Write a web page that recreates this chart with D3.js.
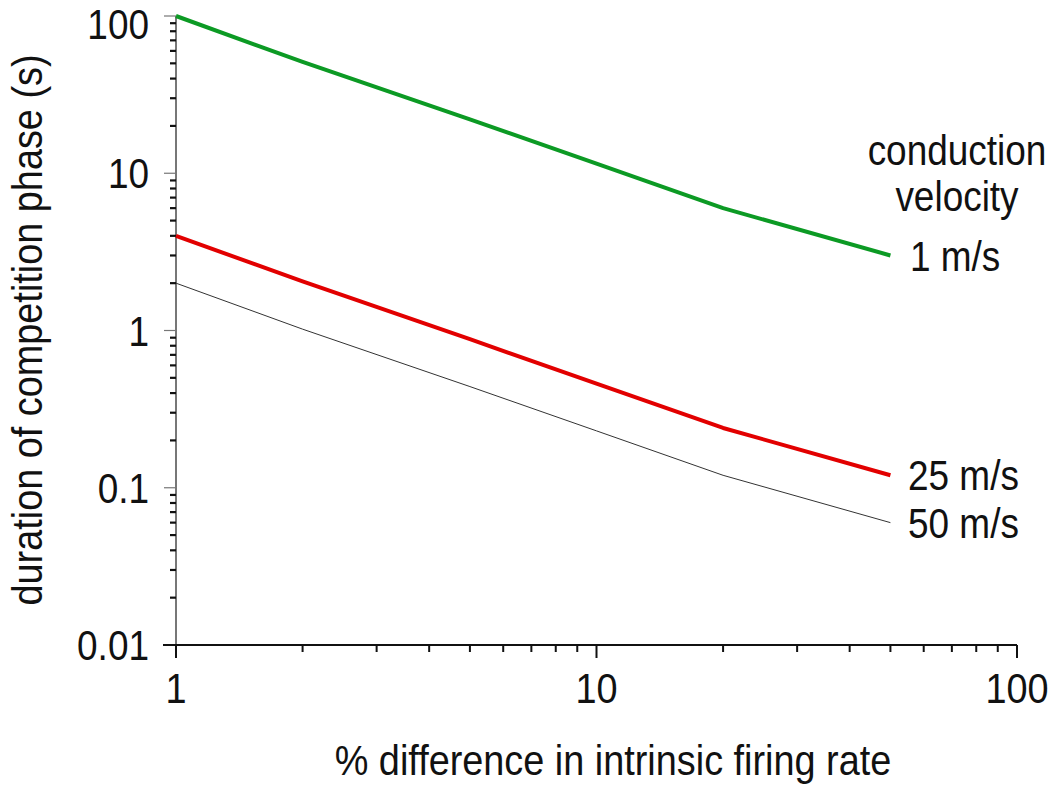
<!DOCTYPE html>
<html><head><meta charset="utf-8">
<script src="https://cdn.jsdelivr.net/npm/d3@7"></script>
<style>body{margin:0;background:#fff}svg{display:block}text{font-family:"Liberation Sans",Arial,sans-serif;fill:#111}</style>
</head><body><svg id="c" width="1050" height="788"></svg>
<script>
const xValues = [1, 2, 5, 10, 20, 50];
const v1 = [100, 51, 22, 11.5, 6, 3];
const v25 = [4, 2.05, 0.88, 0.46, 0.24, 0.12];
const v50 = [2, 1.02, 0.44, 0.23, 0.12, 0.06];
const seriesNames = ["1 m/s", "25 m/s", "50 m/s"];
const xTickLabels = ["1", "10", "100"];
const yTickLabels = ["0.01", "0.1", "1", "10", "100"];
const xTitle = "% difference in intrinsic firing rate";
const yTitle = "duration of competition phase (s)";
const legendTitle = ["conduction", "velocity"];

const svg = d3.select("#c");
const x = d3.scaleLog().domain([1, 100]).range([176, 1017]);
const y = d3.scaleLog().domain([0.01, 100]).range([645, 16]);
const SX = 0.88;

function label(px, py, str, anchor, size, rot) {
  svg.append("text")
    .attr("transform", `translate(${px},${py})` + (rot ? ` rotate(${rot})` : "") + ` scale(${SX},1)`)
    .attr("text-anchor", anchor)
    .attr("font-size", size)
    .text(str);
}

const minor = (lo, hi) => {
  const out = [];
  for (let d = lo; d < hi; d *= 10) for (let k = 2; k <= 9; k++) out.push(d * k);
  return out;
};
const yMinor = minor(0.01, 100);
const xMinor = minor(1, 100);

// y axis
svg.append("line").attr("x1", 176).attr("x2", 176).attr("y1", y(100)).attr("y2", y(0.01))
  .attr("stroke", "#555").attr("stroke-width", 1.6);
svg.selectAll(".ymin").data(yMinor).enter().append("line")
  .attr("x1", 170).attr("x2", 176).attr("y1", d => y(d)).attr("y2", d => y(d))
  .attr("stroke", "#111").attr("stroke-width", 2.2);
svg.selectAll(".ymaj").data(yTickLabels.map(Number)).enter().append("line")
  .attr("x1", 164).attr("x2", 176).attr("y1", d => y(d)).attr("y2", d => y(d))
  .attr("stroke", "#777").attr("stroke-width", 1.2);

// x axis
svg.append("line").attr("x1", 163).attr("x2", x(100)).attr("y1", 645).attr("y2", 645)
  .attr("stroke", "#111").attr("stroke-width", 2);
svg.selectAll(".xmin").data(xMinor).enter().append("line")
  .attr("x1", d => x(d)).attr("x2", d => x(d)).attr("y1", 645).attr("y2", 652)
  .attr("stroke", "#111").attr("stroke-width", 2);
svg.selectAll(".xmaj").data(xTickLabels.map(Number)).enter().append("line")
  .attr("x1", d => x(d)).attr("x2", d => x(d)).attr("y1", 645).attr("y2", 658)
  .attr("stroke", "#111").attr("stroke-width", 2);

// tick labels
yTickLabels.forEach(t => label(149, Math.max(y(+t) + 15, 39), t, "end", 42));
xTickLabels.forEach(t => label(x(+t), 703, t, "middle", 43));

// titles
label(613, 775, xTitle, "middle", 43);
label(42, 330, yTitle, "middle", 43, -90);

// lines
const line = d3.line().x((d, i) => x(xValues[i])).y(d => y(d));
const series = [
  {vals: v1, color: "#0c9a24", w: 4},
  {vals: v25, color: "#e20000", w: 4},
  {vals: v50, color: "#333", w: 1}
];
series.forEach(s => {
  svg.append("path").attr("d", line(s.vals)).attr("fill", "none")
    .attr("stroke", s.color).attr("stroke-width", s.w).attr("stroke-linejoin", "round");
});

// legend text
label(957, 165, legendTitle[0], "middle", 42);
label(957, 211, legendTitle[1], "middle", 42);
label(910, 271, seriesNames[0], "start", 42);
label(908, 490, seriesNames[1], "start", 42);
label(908, 538, seriesNames[2], "start", 42);
</script></body></html>
